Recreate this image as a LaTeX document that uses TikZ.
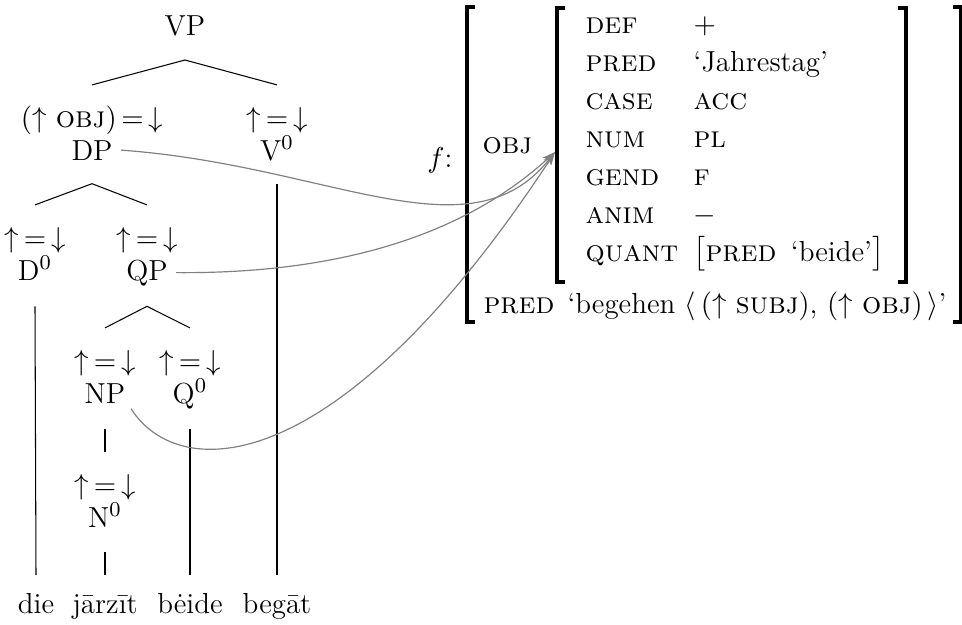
\documentclass[tikz,border=0pt]{standalone}
\usepackage{amsmath, amssymb}
\usepackage{xcolor}
\usetikzlibrary{arrows.meta}
\newcommand{\fup}{\mathord{\uparrow}}
\newcommand{\fdown}{\mathord{\downarrow}}
\newcommand{\fsc}[1]{{\fontsize{11.5}{13}\selectfont\scshape #1}}
\newcommand{\feq}{\fup\mskip3mu{=}\mskip3mu\fdown}

\begin{document}
\begin{tikzpicture}[x=0.38pt,y=-0.38pt,
  every node/.style={font=\fontsize{11}{13}\selectfont},
  lbl/.style={inner sep=0pt,anchor=base},
  attr/.style={inner sep=0pt,anchor=base west},
  val/.style={inner sep=0pt,anchor=base west},
  tline/.style={line width=0.4pt,color=ctree},
  corr/.style={line width=0.45pt,color=ccorr,-{Stealth[length=5pt,width=3.2pt]}},
  brk/.style={line width=1.2pt,color=ctree}]
\definecolor{ctree}{rgb}{0.0,0.0,0.0}
\definecolor{ccorr}{rgb}{0.5,0.5,0.5}
\useasboundingbox (0,0) rectangle (962,624);
%
\node[lbl] (vp) at (185,35) {VP};
\node[lbl] (dpann) at (92,127) {$(\fup\ \text{\fsc{obj}})\mskip3mu{=}\mskip3mu\fdown$};
\node[lbl] (dp) at (92,160) {DP};
\node[lbl] (v0ann) at (277,127) {$\feq$};
\node[lbl] (v0) at (277,160) {V$^0$};
\node[lbl] (d0ann) at (35,247) {$\feq$};
\node[lbl] (d0) at (35,280) {D$^0$};
\node[lbl] (qpann) at (147,247) {$\feq$};
\node[lbl] (qp) at (147,280) {QP};
\node[lbl] (npann) at (105,370) {$\feq$};
\node[lbl] (np) at (105,403) {NP};
\node[lbl] (q0ann) at (190,370) {$\feq$};
\node[lbl] (q0) at (190,403) {Q$^0$};
\node[lbl] (n0ann) at (105,494) {$\feq$};
\node[lbl] (n0) at (105,527) {N$^0$};
%
\node[lbl] (die) at (36,613) {die};
\node[lbl] (jarzit) at (105,613) {jārzīt};
\node[lbl] (beide) at (190,613) {bėide};
\node[lbl] (begat) at (277,613) {begāt};
%
\draw[tline] ([yshift=16pt]dpann.base) -- ([yshift=-9.5pt]vp.base) -- ([yshift=16pt]v0ann.base);
\draw[tline] ([yshift=16pt]d0ann.base) -- ([yshift=-9pt]dp.base) -- ([yshift=16pt]qpann.base);
\draw[tline] ([yshift=16pt]npann.base) -- ([yshift=-10pt]qp.base) -- ([yshift=16pt]q0ann.base);
\draw[tline] ([yshift=-10pt]d0.base) -- ([yshift=14.4pt]die.base);
\draw[tline] ([yshift=-9pt]v0.base) -- ([yshift=14.4pt]begat.base);
\draw[tline] ([yshift=-10pt]np.base) -- ([yshift=16pt]n0ann.base);
\draw[tline] ([yshift=-9.5pt]n0.base) -- ([yshift=14.4pt]jarzit.base);
\draw[tline] ([yshift=-10pt]q0.base) -- ([yshift=14.4pt]beide.base);
%
\node[lbl] (fname) at (440,167) {$f$:};
\node[attr] (objattr) at (482,153) {\fsc{obj}};
\foreach \a/\v [count=\i] in {def/$+$, pred/`Jahrestag', case/\fsc{acc}, num/\fsc{pl}, gend/\fsc{f}, anim/$-$, quant/{$\bigl[$\fsc{pred}\enskip`beide'$\bigr]$}}
{
  \node[attr] (attr\i) at (585,{33+38*(\i-1)}) {\fsc{\a}};
  \node[val] (val\i) at (693,{33+38*(\i-1)}) {\v};
}
\node[attr] (predattr) at (483,313) {\fsc{pred}};
\node[val] (predval) at (567,313) {`begehen $\langle\,(\uparrow$ \fsc{subj}), $(\uparrow$ \fsc{obj})$\,\rangle$'};
%
\draw[brk] (565,8) -- (557,8) -- (557,282) -- (565,282);
\draw[brk] (898,8) -- (906,8) -- (906,282) -- (898,282);
\draw[brk] (475,7) -- (467,7) -- (467,322) -- (475,322);
\draw[brk] (953,7) -- (961,7) -- (961,322) -- (953,322);
%
\coordinate (objf) at (555,152);
\draw[corr] ([xshift=3pt]dp.east) .. controls (330,165) and (470,260) .. (objf);
\draw[corr] ([xshift=3pt]qp.east) .. controls (350,274) and (470,230) .. (objf);
\draw[corr] ([xshift=2pt,yshift=-2pt]np.south east) .. controls (180,485) and (340,480) .. (objf);
%
\end{tikzpicture}
\end{document}
